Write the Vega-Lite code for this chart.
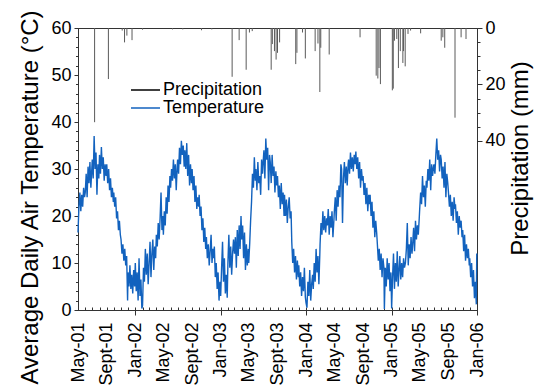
{
  "$schema": "https://vega.github.io/schema/vega-lite/v6.json",
  "width": 399,
  "height": 282,
  "autosize": {"type": "none"},
  "padding": {"left": 78, "top": 28, "right": 59, "bottom": 82},
  "background": "white",
  "config": {
    "view": {"stroke": "#333", "strokeWidth": 1},
    "font": "Liberation Sans",
    "axis": {
      "labelFont": "Liberation Sans", "titleFont": "Liberation Sans",
      "labelFontSize": 18, "titleFontSize": 24, "titleFontWeight": "normal",
      "labelColor": "#000", "titleColor": "#000",
      "domainColor": "#333", "tickColor": "#333", "grid": false,
      "labelFlush": false, "labelOverlap": false, "labelBound": false
    }
  },
  "datasets": {
    "temp": [
      {"date":"2001-05-01","temp":16.5},{"date":"2001-05-05","temp":22},{"date":"2001-05-09","temp":25},{"date":"2001-05-13","temp":21},{"date":"2001-05-17","temp":24.5},{"date":"2001-05-21","temp":22},{"date":"2001-05-25","temp":26},{"date":"2001-05-29","temp":24},
      {"date":"2001-06-01","temp":25},{"date":"2001-06-05","temp":29},{"date":"2001-06-09","temp":24},{"date":"2001-06-13","temp":30.5},{"date":"2001-06-17","temp":27},{"date":"2001-06-21","temp":31.5},{"date":"2001-06-25","temp":26},{"date":"2001-06-29","temp":30},
      {"date":"2001-07-01","temp":32},{"date":"2001-07-05","temp":28},{"date":"2001-07-09","temp":37},{"date":"2001-07-13","temp":30},{"date":"2001-07-17","temp":33.5},{"date":"2001-07-21","temp":24.5},{"date":"2001-07-25","temp":31},{"date":"2001-07-29","temp":28},
      {"date":"2001-08-01","temp":33},{"date":"2001-08-05","temp":29},{"date":"2001-08-09","temp":34.7},{"date":"2001-08-13","temp":30},{"date":"2001-08-17","temp":32.5},{"date":"2001-08-21","temp":27.5},{"date":"2001-08-25","temp":31},{"date":"2001-08-29","temp":28.5},
      {"date":"2001-09-01","temp":31},{"date":"2001-09-05","temp":27},{"date":"2001-09-09","temp":30},{"date":"2001-09-13","temp":25.5},{"date":"2001-09-17","temp":28},{"date":"2001-09-21","temp":24},{"date":"2001-09-25","temp":26},{"date":"2001-09-29","temp":23},
      {"date":"2001-10-01","temp":25},{"date":"2001-10-05","temp":22},{"date":"2001-10-09","temp":24},{"date":"2001-10-13","temp":19.5},{"date":"2001-10-17","temp":21},{"date":"2001-10-21","temp":17},{"date":"2001-10-25","temp":19},{"date":"2001-10-29","temp":16},
      {"date":"2001-11-01","temp":15},{"date":"2001-11-05","temp":12},{"date":"2001-11-09","temp":14},{"date":"2001-11-13","temp":10.5},{"date":"2001-11-17","temp":13},{"date":"2001-11-21","temp":9.5},{"date":"2001-11-25","temp":11.5},{"date":"2001-11-29","temp":2},
      {"date":"2001-12-01","temp":8},{"date":"2001-12-05","temp":5},{"date":"2001-12-09","temp":9.5},{"date":"2001-12-13","temp":4.5},{"date":"2001-12-17","temp":7.5},{"date":"2001-12-21","temp":3.5},{"date":"2001-12-25","temp":8.5},{"date":"2001-12-29","temp":5},
      {"date":"2002-01-01","temp":10},{"date":"2002-01-05","temp":4},{"date":"2002-01-09","temp":8},{"date":"2002-01-13","temp":2},{"date":"2002-01-17","temp":11},{"date":"2002-01-21","temp":3},{"date":"2002-01-25","temp":6.5},{"date":"2002-01-29","temp":0.3},
      {"date":"2002-02-01","temp":1},{"date":"2002-02-05","temp":9},{"date":"2002-02-09","temp":6},{"date":"2002-02-13","temp":13},{"date":"2002-02-17","temp":7.5},{"date":"2002-02-21","temp":12},{"date":"2002-02-25","temp":5.5},
      {"date":"2002-03-01","temp":10},{"date":"2002-03-05","temp":14.5},{"date":"2002-03-09","temp":7},{"date":"2002-03-13","temp":12},{"date":"2002-03-17","temp":15},{"date":"2002-03-21","temp":8.5},{"date":"2002-03-25","temp":13.5},{"date":"2002-03-29","temp":11},
      {"date":"2002-04-01","temp":16},{"date":"2002-04-05","temp":13.5},{"date":"2002-04-09","temp":18.5},{"date":"2002-04-13","temp":15},{"date":"2002-04-17","temp":19.5},{"date":"2002-04-21","temp":25},{"date":"2002-04-25","temp":17},{"date":"2002-04-29","temp":20},
      {"date":"2002-05-01","temp":16},{"date":"2002-05-05","temp":21},{"date":"2002-05-09","temp":18},{"date":"2002-05-13","temp":24},{"date":"2002-05-17","temp":20.5},{"date":"2002-05-21","temp":26.5},{"date":"2002-05-25","temp":23},{"date":"2002-05-29","temp":28.5},
      {"date":"2002-06-01","temp":26},{"date":"2002-06-05","temp":30},{"date":"2002-06-09","temp":27.5},{"date":"2002-06-13","temp":32},{"date":"2002-06-17","temp":28},{"date":"2002-06-21","temp":31},{"date":"2002-06-25","temp":25.5},{"date":"2002-06-29","temp":30.5},
      {"date":"2002-07-01","temp":32},{"date":"2002-07-05","temp":29},{"date":"2002-07-09","temp":34.5},{"date":"2002-07-13","temp":31},{"date":"2002-07-17","temp":36},{"date":"2002-07-21","temp":33},{"date":"2002-07-25","temp":35},{"date":"2002-07-29","temp":30.5},
      {"date":"2002-08-01","temp":34},{"date":"2002-08-05","temp":30},{"date":"2002-08-09","temp":35.5},{"date":"2002-08-13","temp":28.5},{"date":"2002-08-17","temp":33},{"date":"2002-08-21","temp":26.5},{"date":"2002-08-25","temp":31},{"date":"2002-08-29","temp":27},
      {"date":"2002-09-01","temp":30},{"date":"2002-09-05","temp":25.5},{"date":"2002-09-09","temp":28.5},{"date":"2002-09-13","temp":23},{"date":"2002-09-17","temp":26.5},{"date":"2002-09-21","temp":21.5},{"date":"2002-09-25","temp":24},{"date":"2002-09-29","temp":22},
      {"date":"2002-10-01","temp":24.5},{"date":"2002-10-05","temp":20},{"date":"2002-10-09","temp":22},{"date":"2002-10-13","temp":17},{"date":"2002-10-17","temp":19.5},{"date":"2002-10-21","temp":14.5},{"date":"2002-10-25","temp":17.5},{"date":"2002-10-29","temp":13},
      {"date":"2002-11-01","temp":15.5},{"date":"2002-11-05","temp":11},{"date":"2002-11-09","temp":14},{"date":"2002-11-13","temp":9.5},{"date":"2002-11-17","temp":12.5},{"date":"2002-11-21","temp":16},{"date":"2002-11-25","temp":10},{"date":"2002-11-29","temp":13},
      {"date":"2002-12-01","temp":11},{"date":"2002-12-05","temp":13.5},{"date":"2002-12-09","temp":7},{"date":"2002-12-13","temp":10},{"date":"2002-12-17","temp":4.5},{"date":"2002-12-21","temp":8},{"date":"2002-12-25","temp":2},{"date":"2002-12-29","temp":6},
      {"date":"2003-01-01","temp":3},{"date":"2003-01-05","temp":9},{"date":"2003-01-09","temp":14.5},{"date":"2003-01-13","temp":6},{"date":"2003-01-17","temp":11},{"date":"2003-01-21","temp":3.5},{"date":"2003-01-25","temp":7.5},{"date":"2003-01-29","temp":2.6},
      {"date":"2003-02-01","temp":10},{"date":"2003-02-05","temp":16},{"date":"2003-02-09","temp":9},{"date":"2003-02-13","temp":13.5},{"date":"2003-02-17","temp":7.5},{"date":"2003-02-21","temp":12},{"date":"2003-02-25","temp":15},
      {"date":"2003-03-01","temp":12},{"date":"2003-03-05","temp":15.5},{"date":"2003-03-09","temp":9},{"date":"2003-03-13","temp":17},{"date":"2003-03-17","temp":11.5},{"date":"2003-03-21","temp":18},{"date":"2003-03-25","temp":13},{"date":"2003-03-29","temp":20},
      {"date":"2003-04-01","temp":15},{"date":"2003-04-05","temp":18},{"date":"2003-04-09","temp":11},{"date":"2003-04-13","temp":16.5},{"date":"2003-04-17","temp":8.5},{"date":"2003-04-21","temp":14},{"date":"2003-04-25","temp":9.5},{"date":"2003-04-29","temp":13},
      {"date":"2003-05-01","temp":10},{"date":"2003-05-05","temp":14},{"date":"2003-05-09","temp":19},{"date":"2003-05-13","temp":23},{"date":"2003-05-17","temp":29},{"date":"2003-05-21","temp":26},{"date":"2003-05-25","temp":32.5},{"date":"2003-05-29","temp":27.5},
      {"date":"2003-06-01","temp":30},{"date":"2003-06-05","temp":25.5},{"date":"2003-06-09","temp":31.5},{"date":"2003-06-13","temp":27},{"date":"2003-06-17","temp":28.5},{"date":"2003-06-21","temp":24.5},{"date":"2003-06-25","temp":32},{"date":"2003-06-29","temp":29},
      {"date":"2003-07-01","temp":31},{"date":"2003-07-05","temp":34},{"date":"2003-07-09","temp":28},{"date":"2003-07-13","temp":36.5},{"date":"2003-07-17","temp":32},{"date":"2003-07-21","temp":34.5},{"date":"2003-07-25","temp":25.5},{"date":"2003-07-29","temp":33},
      {"date":"2003-08-01","temp":31.5},{"date":"2003-08-05","temp":27},{"date":"2003-08-09","temp":33},{"date":"2003-08-13","temp":28.5},{"date":"2003-08-17","temp":30.5},{"date":"2003-08-21","temp":25},{"date":"2003-08-25","temp":29.5},{"date":"2003-08-29","temp":26.5},
      {"date":"2003-09-01","temp":28.5},{"date":"2003-09-05","temp":24},{"date":"2003-09-09","temp":26.5},{"date":"2003-09-13","temp":21.5},{"date":"2003-09-17","temp":27},{"date":"2003-09-21","temp":22.5},{"date":"2003-09-25","temp":25},{"date":"2003-09-29","temp":20},
      {"date":"2003-10-01","temp":24.5},{"date":"2003-10-05","temp":20},{"date":"2003-10-09","temp":23.5},{"date":"2003-10-13","temp":18.5},{"date":"2003-10-17","temp":22},{"date":"2003-10-21","temp":24},{"date":"2003-10-25","temp":19.5},{"date":"2003-10-29","temp":21},
      {"date":"2003-11-01","temp":14.5},{"date":"2003-11-05","temp":10},{"date":"2003-11-09","temp":13},{"date":"2003-11-13","temp":8},{"date":"2003-11-17","temp":11.5},{"date":"2003-11-21","temp":6.5},{"date":"2003-11-25","temp":10.5},{"date":"2003-11-29","temp":7},
      {"date":"2003-12-01","temp":9.5},{"date":"2003-12-05","temp":5},{"date":"2003-12-09","temp":8},{"date":"2003-12-13","temp":3},{"date":"2003-12-17","temp":7},{"date":"2003-12-21","temp":4},{"date":"2003-12-25","temp":9},{"date":"2003-12-29","temp":2.8},
      {"date":"2004-01-01","temp":1.5},{"date":"2004-01-05","temp":0.5},{"date":"2004-01-09","temp":6},{"date":"2004-01-13","temp":3},{"date":"2004-01-17","temp":8.5},{"date":"2004-01-21","temp":2},{"date":"2004-01-25","temp":5.5},{"date":"2004-01-29","temp":7.5},
      {"date":"2004-02-01","temp":4.5},{"date":"2004-02-05","temp":10},{"date":"2004-02-09","temp":6},{"date":"2004-02-13","temp":13},{"date":"2004-02-17","temp":8},{"date":"2004-02-21","temp":11.5},{"date":"2004-02-25","temp":5.5},{"date":"2004-02-29","temp":12},
      {"date":"2004-03-01","temp":14},{"date":"2004-03-05","temp":18.5},{"date":"2004-03-09","temp":16},{"date":"2004-03-13","temp":21},{"date":"2004-03-17","temp":17},{"date":"2004-03-21","temp":20},{"date":"2004-03-25","temp":16.5},{"date":"2004-03-29","temp":19.5},
      {"date":"2004-04-01","temp":18},{"date":"2004-04-05","temp":21.5},{"date":"2004-04-09","temp":16},{"date":"2004-04-13","temp":20},{"date":"2004-04-17","temp":17.5},{"date":"2004-04-21","temp":21},{"date":"2004-04-25","temp":15.5},{"date":"2004-04-29","temp":19},
      {"date":"2004-05-01","temp":21},{"date":"2004-05-05","temp":24},{"date":"2004-05-09","temp":19},{"date":"2004-05-13","temp":25.5},{"date":"2004-05-17","temp":22},{"date":"2004-05-21","temp":26.5},{"date":"2004-05-25","temp":24},{"date":"2004-05-29","temp":31},
      {"date":"2004-06-01","temp":30},{"date":"2004-06-05","temp":18.5},{"date":"2004-06-09","temp":28},{"date":"2004-06-13","temp":31.5},{"date":"2004-06-17","temp":27},{"date":"2004-06-21","temp":30.5},{"date":"2004-06-25","temp":26.5},{"date":"2004-06-29","temp":31},
      {"date":"2004-07-01","temp":32},{"date":"2004-07-05","temp":29},{"date":"2004-07-09","temp":33.5},{"date":"2004-07-13","temp":30},{"date":"2004-07-17","temp":32.5},{"date":"2004-07-21","temp":29.5},{"date":"2004-07-25","temp":33},{"date":"2004-07-29","temp":31},
      {"date":"2004-08-01","temp":33.7},{"date":"2004-08-05","temp":30},{"date":"2004-08-09","temp":32.5},{"date":"2004-08-13","temp":28},{"date":"2004-08-17","temp":31.5},{"date":"2004-08-21","temp":26},{"date":"2004-08-25","temp":30},{"date":"2004-08-29","temp":27.5},
      {"date":"2004-09-01","temp":28.5},{"date":"2004-09-05","temp":24.5},{"date":"2004-09-09","temp":27},{"date":"2004-09-13","temp":22.5},{"date":"2004-09-17","temp":26},{"date":"2004-09-21","temp":21},{"date":"2004-09-25","temp":24.5},{"date":"2004-09-29","temp":22.5},
      {"date":"2004-10-01","temp":24.5},{"date":"2004-10-05","temp":20},{"date":"2004-10-09","temp":23},{"date":"2004-10-13","temp":17.5},{"date":"2004-10-17","temp":21},{"date":"2004-10-21","temp":15.5},{"date":"2004-10-25","temp":19},{"date":"2004-10-29","temp":16.5},
      {"date":"2004-11-01","temp":14},{"date":"2004-11-05","temp":10.5},{"date":"2004-11-09","temp":13},{"date":"2004-11-13","temp":8.5},{"date":"2004-11-17","temp":12},{"date":"2004-11-21","temp":7},{"date":"2004-11-25","temp":11},{"date":"2004-11-29","temp":9},
      {"date":"2004-12-01","temp":0.2},{"date":"2004-12-05","temp":9},{"date":"2004-12-09","temp":5},{"date":"2004-12-13","temp":11},{"date":"2004-12-17","temp":6.5},{"date":"2004-12-21","temp":10},{"date":"2004-12-25","temp":4},{"date":"2004-12-29","temp":8},
      {"date":"2005-01-01","temp":0.3},{"date":"2005-01-05","temp":7},{"date":"2005-01-09","temp":12},{"date":"2005-01-13","temp":4.5},{"date":"2005-01-17","temp":10},{"date":"2005-01-21","temp":6},{"date":"2005-01-25","temp":12.5},{"date":"2005-01-29","temp":5},
      {"date":"2005-02-01","temp":8},{"date":"2005-02-05","temp":11.5},{"date":"2005-02-09","temp":6.5},{"date":"2005-02-13","temp":10},{"date":"2005-02-17","temp":7},{"date":"2005-02-21","temp":11},{"date":"2005-02-25","temp":9},
      {"date":"2005-03-01","temp":10},{"date":"2005-03-05","temp":13},{"date":"2005-03-09","temp":18.5},{"date":"2005-03-13","temp":9.5},{"date":"2005-03-17","temp":14},{"date":"2005-03-21","temp":11},{"date":"2005-03-25","temp":15.5},{"date":"2005-03-29","temp":12},
      {"date":"2005-04-01","temp":14},{"date":"2005-04-05","temp":17.5},{"date":"2005-04-09","temp":12.5},{"date":"2005-04-13","temp":19},{"date":"2005-04-17","temp":15},{"date":"2005-04-21","temp":18},{"date":"2005-04-25","temp":16},{"date":"2005-04-29","temp":19.5},
      {"date":"2005-05-01","temp":21.5},{"date":"2005-05-05","temp":25},{"date":"2005-05-09","temp":22.5},{"date":"2005-05-13","temp":28.5},{"date":"2005-05-17","temp":24},{"date":"2005-05-21","temp":26.5},{"date":"2005-05-25","temp":22},{"date":"2005-05-29","temp":27.5},
      {"date":"2005-06-01","temp":26},{"date":"2005-06-05","temp":30},{"date":"2005-06-09","temp":27.5},{"date":"2005-06-13","temp":32},{"date":"2005-06-17","temp":25.5},{"date":"2005-06-21","temp":31},{"date":"2005-06-25","temp":28.5},{"date":"2005-06-29","temp":30.5},
      {"date":"2005-07-01","temp":31},{"date":"2005-07-05","temp":29},{"date":"2005-07-09","temp":33},{"date":"2005-07-13","temp":36.5},{"date":"2005-07-17","temp":32},{"date":"2005-07-21","temp":34},{"date":"2005-07-25","temp":29.5},{"date":"2005-07-29","temp":33},
      {"date":"2005-08-01","temp":32},{"date":"2005-08-05","temp":28},{"date":"2005-08-09","temp":30.5},{"date":"2005-08-13","temp":26},{"date":"2005-08-17","temp":31.5},{"date":"2005-08-21","temp":24},{"date":"2005-08-25","temp":29},{"date":"2005-08-29","temp":27},
      {"date":"2005-09-01","temp":25},{"date":"2005-09-05","temp":22},{"date":"2005-09-09","temp":24.5},{"date":"2005-09-13","temp":20},{"date":"2005-09-17","temp":23},{"date":"2005-09-21","temp":19},{"date":"2005-09-25","temp":24},{"date":"2005-09-29","temp":21.5},
      {"date":"2005-10-01","temp":22.5},{"date":"2005-10-05","temp":18.5},{"date":"2005-10-09","temp":21},{"date":"2005-10-13","temp":16},{"date":"2005-10-17","temp":20},{"date":"2005-10-21","temp":17.5},{"date":"2005-10-25","temp":19},{"date":"2005-10-29","temp":15.5},
      {"date":"2005-11-01","temp":17},{"date":"2005-11-05","temp":12.5},{"date":"2005-11-09","temp":16},{"date":"2005-11-13","temp":10.5},{"date":"2005-11-17","temp":14},{"date":"2005-11-21","temp":11},{"date":"2005-11-25","temp":13},{"date":"2005-11-29","temp":9.5},
      {"date":"2005-12-01","temp":11},{"date":"2005-12-05","temp":7},{"date":"2005-12-09","temp":10},{"date":"2005-12-13","temp":5},{"date":"2005-12-17","temp":8.5},{"date":"2005-12-21","temp":2.5},{"date":"2005-12-25","temp":6},{"date":"2005-12-29","temp":1.2},{"date":"2005-12-31","temp":12}
    ],
    "precip": [
      {"date":"2001-07-11","precip":33.4},{"date":"2001-09-08","precip":18.1},{"date":"2001-11-06","precip":0.9},{"date":"2001-11-16","precip":5.1},{"date":"2001-11-26","precip":2.7},{"date":"2001-12-18","precip":4.3},
      {"date":"2002-02-01","precip":0.6},{"date":"2002-06-09","precip":0.5},{"date":"2002-07-23","precip":0.5},{"date":"2002-10-11","precip":0.8},{"date":"2002-11-24","precip":0.5},
      {"date":"2003-02-19","precip":17.3},{"date":"2003-03-21","precip":4.3},{"date":"2003-04-20","precip":14.8},{"date":"2003-05-04","precip":1.6},{"date":"2003-05-16","precip":1.1},
      {"date":"2003-08-05","precip":14.8},{"date":"2003-08-10","precip":5.7},{"date":"2003-08-19","precip":8.2},{"date":"2003-08-26","precip":11.2},{"date":"2003-09-01","precip":8.8},{"date":"2003-09-10","precip":5.1},
      {"date":"2003-11-18","precip":12.8},{"date":"2003-11-23","precip":8.8},{"date":"2003-12-17","precip":1.6},{"date":"2003-12-29","precip":10.8},
      {"date":"2004-02-09","precip":8.2},{"date":"2004-02-21","precip":5.5},{"date":"2004-02-29","precip":22.7},{"date":"2004-03-04","precip":7},{"date":"2004-04-09","precip":9.4},{"date":"2004-08-19","precip":3.3},
      {"date":"2004-10-27","precip":16.9},{"date":"2004-11-03","precip":17.9},{"date":"2004-11-08","precip":14.2},{"date":"2004-11-14","precip":19.9},
      {"date":"2005-01-04","precip":22.1},{"date":"2005-01-08","precip":21.5},{"date":"2005-01-13","precip":4.5},{"date":"2005-01-23","precip":3.9},{"date":"2005-01-30","precip":14.2},
      {"date":"2005-02-07","precip":8.2},{"date":"2005-02-18","precip":12.4},{"date":"2005-02-21","precip":8.2},{"date":"2005-02-28","precip":13.6},{"date":"2005-03-12","precip":2.1},{"date":"2005-03-23","precip":0.9},
      {"date":"2005-05-05","precip":1.9},{"date":"2005-08-01","precip":4.5},{"date":"2005-08-08","precip":3.3},{"date":"2005-08-16","precip":7},{"date":"2005-09-29","precip":31.8},{"date":"2005-10-25","precip":3.3},{"date":"2005-11-15","precip":3.9}
    ]
  },
  "layer": [
    {
      "data": {"name": "precip"},
      "mark": {"type": "rule", "strokeWidth": 1, "color": "#5a5a5a"},
      "encoding": {
        "x": {"field": "date", "type": "temporal",
          "scale": {"type": "utc", "domain": [{"year": 2001, "month": 5, "date": 1, "utc": true}, {"year": 2006, "month": 1, "date": 1, "utc": true}]},
          "axis": {"orient": "bottom", "tickCount": {"interval": "month", "step": 1}, "tickSize": -3, "labels": false, "domain": false, "title": null}},
        "y": {"field": "precip", "type": "quantitative",
          "scale": {"domain": [0, 100], "reverse": true, "nice": false},
          "axis": {"orient": "right", "values": [0, 20, 40], "tickSize": 5, "labelPadding": 3, "title": "Precipitation (mm)", "titleAngle": -90, "titleBaseline": "top", "titlePadding": 3, "titleY": 130}},
        "y2": {"datum": 0}
      }
    },
    {
      "data": {"name": "temp"},
      "mark": {"type": "line", "strokeWidth": 1.4},
      "encoding": {
        "x": {"field": "date", "type": "temporal",
          "scale": {"type": "utc", "domain": [{"year": 2001, "month": 5, "date": 1, "utc": true}, {"year": 2006, "month": 1, "date": 1, "utc": true}]},
          "axis": {"orient": "bottom", "tickCount": {"interval": "month", "step": 4}, "ticks": false, "labelAngle": -90, "labelPadding": 12, "title": null,
            "labelExpr": "utcFormat(datum.value, '%b') == 'Sep' && utcyear(datum.value) < 2005 ? 'Sept-' + utcFormat(datum.value, '%y') : utcFormat(datum.value, '%b-%y')"}},
        "y": {"field": "temp", "type": "quantitative",
          "scale": {"domain": [0, 60], "nice": false},
          "axis": {"orient": "left", "values": [0, 10, 20, 30, 40, 50, 60], "tickSize": 4, "labelPadding": 3, "title": "Average Daily Air Temperature (°C)", "titlePadding": 8, "titleY": 169}},
        "color": {"datum": "Temperature", "type": "nominal",
          "scale": {"domain": ["Precipitation", "Temperature"], "range": ["#000000", "#1262be"]},
          "legend": {"orient": "none", "legendX": 52, "legendY": 54, "title": null, "symbolType": "stroke", "symbolSize": 841, "symbolStrokeWidth": 1.5, "labelFontSize": 18, "labelFont": "Liberation Sans", "labelColor": "#000", "labelOffset": 2, "clipHeight": 16, "rowPadding": 0, "padding": 0}}
      }
    },
    {
      "data": {"name": "precip"},
      "mark": {"type": "rule", "opacity": 0},
      "encoding": {
        "x": {"field": "date", "type": "temporal",
          "scale": {"type": "utc", "domain": [{"year": 2001, "month": 5, "date": 1, "utc": true}, {"year": 2006, "month": 1, "date": 1, "utc": true}]},
          "axis": {"orient": "bottom", "tickCount": {"interval": "year", "step": 1}, "tickSize": 5, "labels": false, "domain": false, "title": null}},
        "y": {"field": "precip", "type": "quantitative",
          "scale": {"domain": [0, 100], "reverse": true, "nice": false},
          "axis": {"orient": "right", "values": [0, 5, 10, 15, 20, 25, 30, 35, 40], "tickSize": 3, "labels": false, "domain": false, "title": null}}
      }
    },
    {
      "data": {"name": "temp"},
      "mark": {"type": "point", "opacity": 0},
      "encoding": {
        "x": {"field": "date", "type": "temporal",
          "scale": {"type": "utc", "domain": [{"year": 2001, "month": 5, "date": 1, "utc": true}, {"year": 2006, "month": 1, "date": 1, "utc": true}]},
          "axis": null},
        "y": {"field": "temp", "type": "quantitative",
          "scale": {"domain": [0, 60], "nice": false},
          "axis": {"orient": "left", "values": [0, 2, 4, 6, 8, 10, 12, 14, 16, 18, 20, 22, 24, 26, 28, 30, 32, 34, 36, 38, 40, 42, 44, 46, 48, 50, 52, 54, 56, 58, 60], "tickSize": 2.5, "labels": false, "domain": false, "title": null}}
      }
    }
  ],
  "resolve": {"scale": {"y": "independent"}, "axis": {"x": "independent"}}
}
